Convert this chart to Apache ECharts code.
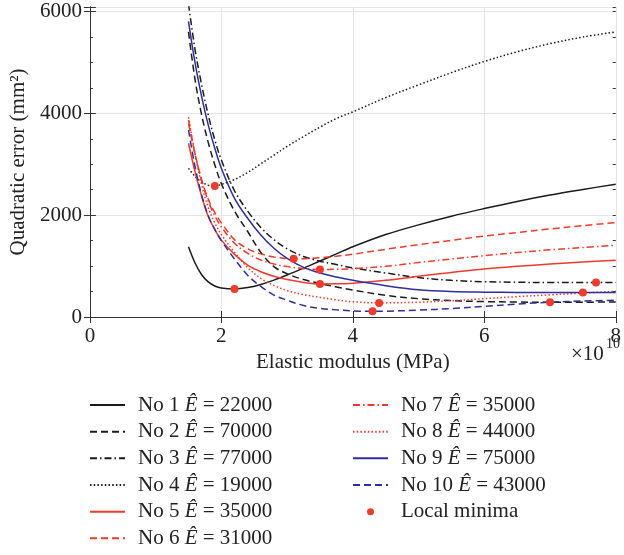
<!DOCTYPE html>
<html>
<head>
<meta charset="utf-8">
<script src="https://cdn.jsdelivr.net/npm/echarts@6/dist/echarts.min.js"></script>
<style>
  html, body { margin: 0; padding: 0; background: #fff; }
  #chart { width: 624px; height: 555px; }
</style>
</head>
<body>
<div id="chart"></div>
<script>
// Elastic modulus sample points (×10^10)
const modulus = [1.5, 1.6, 1.7, 1.8, 1.9, 2.0, 2.2, 2.4, 2.6, 2.8, 3.0, 3.25, 3.5, 3.75, 4.0, 4.5, 5.0, 5.5, 6.0, 6.5, 7.0, 7.5, 8.0];

// Quadratic error (mm^2) of each test against the modulus
const err1  = [1380, 1060, 830, 690, 610, 570, 551, 578, 640, 725, 825, 960, 1100, 1240, 1380, 1620, 1810, 1980, 2130, 2270, 2395, 2505, 2610];
const err2  = [5600, 4660, 3970, 3430, 2990, 2620, 2080, 1680, 1270, 990, 850, 735, 657, 590, 530, 425, 360, 322, 303, 294, 290, 291, 295];
const err3  = [6150, 5250, 4560, 3970, 3480, 3085, 2480, 2080, 1760, 1520, 1340, 1190, 1095, 1030, 965, 865, 775, 720, 693, 682, 678, 676, 678];
const err4  = [2920, 2760, 2650, 2590, 2573, 2605, 2700, 2840, 3010, 3180, 3350, 3545, 3730, 3900, 4030, 4310, 4560, 4800, 5020, 5210, 5370, 5500, 5600];
const err5  = [3413, 2850, 2370, 1980, 1720, 1510, 1230, 1020, 890, 800, 735, 680, 650, 652, 665, 720, 800, 875, 945, 995, 1040, 1080, 1116];
const err6  = [3800, 3200, 2700, 2320, 2050, 1850, 1520, 1340, 1240, 1180, 1146, 1145, 1165, 1195, 1235, 1330, 1420, 1505, 1590, 1660, 1730, 1795, 1855];
const err7  = [3870, 3200, 2680, 2280, 1990, 1770, 1450, 1250, 1120, 1040, 990, 950, 933, 937, 948, 995, 1070, 1140, 1205, 1265, 1320, 1365, 1411];
const err8  = [3925, 3200, 2600, 2150, 1850, 1620, 1270, 970, 760, 620, 520, 440, 385, 335, 300, 277, 290, 320, 360, 400, 435, 470, 505];
const err9  = [5807, 4990, 4330, 3775, 3315, 2920, 2330, 1940, 1610, 1350, 1150, 975, 865, 785, 720, 615, 535, 500, 488, 483, 480, 479, 480];
const err10 = [3675, 2950, 2400, 1990, 1720, 1500, 1140, 820, 600, 430, 330, 225, 170, 140, 120, 114, 135, 165, 210, 255, 290, 315, 330];

// Identified modulus for each test and the error at that local minimum
const testNames = ['No 1', 'No 2', 'No 3', 'No 4', 'No 5', 'No 6', 'No 7', 'No 8', 'No 9', 'No 10'];
const eHat = [22000, 70000, 77000, 19000, 35000, 31000, 35000, 44000, 75000, 43000];
const minError = [551, 290, 676, 2573, 650, 1142, 933, 276, 479, 112];

// Axis ticks
const xTicks = [0, 2, 4, 6, 8];
const yTicks = [0, 2000, 4000, 6000];

const errors = [err1, err2, err3, err4, err5, err6, err7, err8, err9, err10];
const minModulus = eHat.map(e => e / 10000);

const BLACK = '#1b1b1b';
const RED = '#ef3b2c';
const BLUE = '#2f2f9c';
const SOLID = 'solid';
const DASH = [7, 4];
const DASHDOT = [7, 3, 1.5, 3];
const DOT = [1.5, 2.2];
const styles = [
  [BLACK, SOLID], [BLACK, DASH], [BLACK, DASHDOT], [BLACK, DOT],
  [RED, SOLID], [RED, DASH], [RED, DASHDOT], [RED, DOT],
  [BLUE, SOLID], [BLUE, DASH]
];

const FONT = 'Liberation Serif';
const FS = 21;
const INK = '#222';

function curveData(ys, k) {
  const pts = modulus.map((x, i) => [x, ys[i]]);
  const mx = minModulus[k];
  if (!modulus.some(x => Math.abs(x - mx) < 1e-9)) {
    pts.push([mx, minError[k]]);
    pts.sort((a, b) => a[0] - b[0]);
  }
  return pts;
}

const lineSeries = errors.map((ys, k) => ({
  name: testNames[k],
  type: 'line',
  data: curveData(ys, k),
  showSymbol: false,
  symbol: 'none',
  smooth: 0.35,
  clip: true,
  lineStyle: { color: styles[k][0], type: styles[k][1], width: 1.5 },
  itemStyle: { color: styles[k][0] },
  z: 2
}));

const minimaSeries = {
  name: 'Local minima',
  type: 'scatter',
  data: minModulus.map((x, k) => [x, minError[k]]),
  symbol: 'circle',
  symbolSize: 8,
  itemStyle: { color: RED, opacity: 1 },
  z: 5
};

const labelStyle = { fontFamily: FONT, fontSize: FS, color: INK };

const legendText = {
  fontFamily: FONT, fontSize: FS, color: INK, lineHeight: 22, padding: [0, 0, 0, 8],
  rich: {
    it: { fontFamily: FONT, fontSize: FS, fontStyle: 'italic', color: INK, lineHeight: 22 },
    n: { fontFamily: FONT, fontSize: FS, color: INK, lineHeight: 22 }
  }
};

function legendFormatter(name) {
  const k = testNames.indexOf(name);
  if (k < 0) return '{n|' + name + '}';
  return '{n|' + name + ' }{it|Ê}{n| = ' + eHat[k] + '}';
}

function legendItems(names) {
  return names.map(n => n === 'Local minima'
    ? { name: n, itemStyle: { opacity: 1 } }
    : { name: n });
}

function legendBlock(names, left) {
  return {
    data: legendItems(names),
    orient: 'vertical',
    left: left, top: 394,
    padding: 0,
    itemWidth: 35, itemHeight: 7, itemGap: 4.67,
    itemStyle: { opacity: 0 },
    formatter: legendFormatter,
    textStyle: legendText,
    selectedMode: false
  };
}

const chart = echarts.init(document.getElementById('chart'), null, { renderer: 'canvas' });

chart.setOption({
  animation: false,
  backgroundColor: '#fff',
  grid: { left: 88, right: 7, top: 7, bottom: 238, show: false },
  legend: [
    legendBlock(testNames.slice(0, 6), 89),
    legendBlock(testNames.slice(6).concat(['Local minima']), 352)
  ],
  xAxis: [
    {
      type: 'value', position: 'bottom', min: xTicks[0], max: xTicks[xTicks.length - 1], interval: 2,
      name: 'Elastic modulus (MPa)', nameLocation: 'middle', nameGap: 25,
      nameTextStyle: { fontFamily: FONT, fontSize: FS, color: INK },
      axisLine: { show: true, lineStyle: { color: '#333', width: 1 } },
      axisTick: { show: true, inside: true, length: 6, lineStyle: { color: '#333' } },
      axisLabel: Object.assign({ margin: 9 }, labelStyle),
      splitLine: { show: true, lineStyle: { color: '#e4e4e4', width: 1 } }
    },
    {
      type: 'value', position: 'top', min: xTicks[0], max: xTicks[xTicks.length - 1], interval: 2,
      axisLine: { show: true, lineStyle: { color: '#333', width: 1 } },
      axisTick: { show: true, inside: true, length: 6, lineStyle: { color: '#333' } },
      axisLabel: { show: false },
      splitLine: { show: false }
    }
  ],
  yAxis: [
    {
      type: 'value', position: 'left', min: yTicks[0], max: 6090, interval: 2000,
      name: 'Quadratic error (mm²)', nameLocation: 'middle', nameGap: 48,
      nameTextStyle: { fontFamily: FONT, fontSize: FS, color: INK },
      axisLine: { show: true, lineStyle: { color: '#333', width: 1 } },
      axisTick: { show: true, inside: true, length: 6, lineStyle: { color: '#333' } },
      axisLabel: Object.assign({ margin: 8, formatter: v => (yTicks.indexOf(v) >= 0 ? String(v) : '') }, labelStyle),
      splitLine: { show: true, lineStyle: { color: '#e4e4e4', width: 1 } }
    },
    {
      type: 'value', position: 'right', min: yTicks[0], max: 6090, interval: 2000,
      axisLine: { show: true, lineStyle: { color: '#333', width: 1 } },
      axisTick: { show: true, inside: true, length: 6, lineStyle: { color: '#333' } },
      axisLabel: { show: false },
      splitLine: { show: false }
    },
    {
      type: 'value', position: 'left', min: yTicks[0], max: 6090, interval: 500,
      axisLine: { show: false },
      axisTick: { show: true, inside: true, length: 3, lineStyle: { color: '#333' } },
      axisLabel: { show: false },
      splitLine: { show: false }
    },
    {
      type: 'value', position: 'right', min: yTicks[0], max: 6090, interval: 500,
      axisLine: { show: false },
      axisTick: { show: true, inside: true, length: 3, lineStyle: { color: '#333' } },
      axisLabel: { show: false },
      splitLine: { show: false }
    }
  ],
  graphic: [
    {
      type: 'text', left: 571, top: 344,
      style: { text: '×10', fontFamily: FONT, fontSize: FS, fill: INK }
    },
    {
      type: 'text', left: 606, top: 337,
      style: { text: '10', fontFamily: FONT, fontSize: 14, fill: INK }
    }
  ],
  series: lineSeries.concat([minimaSeries])
});
</script>
</body>
</html>
